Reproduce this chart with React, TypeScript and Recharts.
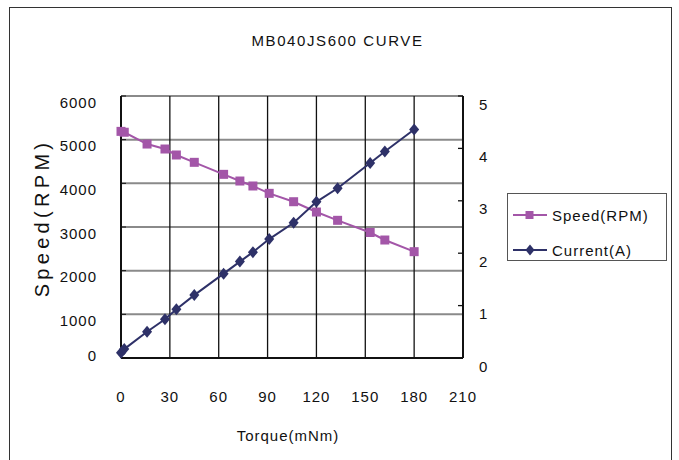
import React from 'react';
import { ComposedChart, Line, XAxis, YAxis, CartesianGrid, Legend } from 'recharts';

const torque = [0, 2, 16, 27, 34, 45, 63, 73, 81, 91, 106, 120, 133, 153, 162, 180];
const speed = [5190, 5170, 4900, 4786, 4649, 4481, 4206, 4053, 3939, 3771, 3579, 3343, 3153, 2874, 2702, 2435];
const current = [0.1, 0.17, 0.5, 0.74, 0.93, 1.2, 1.61, 1.84, 2.02, 2.27, 2.58, 2.98, 3.24, 3.72, 3.94, 4.36];

const xTicks = [0, 30, 60, 90, 120, 150, 180, 210];
const speedTicks = [0, 1000, 2000, 3000, 4000, 5000, 6000];
const currentTicks = [0, 1, 2, 3, 4, 5];

const SPEED_COLOR = '#a356a8';
const CURRENT_COLOR = '#2e3168';
const FONT = '"Liberation Sans", Arial, sans-serif';

const data = torque.map((t, i) => ({ torque: t, speed: speed[i], current: current[i] }));

const SquareDot = (props: any) => {
  const { cx, cy, index } = props;
  return <rect key={`s-${index}`} x={cx - 4.5} y={cy - 4.5} width={9} height={9} fill={SPEED_COLOR} />;
};

const DiamondDot = (props: any) => {
  const { cx, cy, index } = props;
  return (
    <polygon
      key={`d-${index}`}
      points={`${cx},${cy - 6} ${cx + 5},${cy} ${cx},${cy + 6} ${cx - 5},${cy}`}
      fill={CURRENT_COLOR}
    />
  );
};

// Excel-ish tick labels sit a little below their grid line
const LeftTick = (props: any) => {
  const { x, y, payload } = props;
  const dy = payload.value === 0 ? -3 : 6;
  return (
    <text x={x} y={y + dy} textAnchor="end" dominantBaseline="central" fontSize={15} letterSpacing={1} fill="#111" fontFamily={FONT}>
      {payload.value}
    </text>
  );
};

const RightTick = (props: any) => {
  const { x, y, payload } = props;
  return (
    <text x={x} y={y + 8} textAnchor="start" dominantBaseline="central" fontSize={15} fill="#111" fontFamily={FONT}>
      {payload.value}
    </text>
  );
};

const SpeedLabel = (props: any) => {
  const { viewBox } = props;
  const cx = viewBox.x + 42;
  const cy = viewBox.y + viewBox.height / 2 - 9;
  return (
    <text
      x={cx}
      y={cy}
      transform={`rotate(-90, ${cx}, ${cy})`}
      textAnchor="middle"
      dominantBaseline="central"
      fontSize={20}
      letterSpacing={4.3}
      fill="#111"
      fontFamily={FONT}
    >
      Speed(RPM)
    </text>
  );
};

const LegendBox = () => (
  <div
    style={{
      width: 158,
      height: 66,
      border: '1px solid #555',
      background: '#fff',
      fontFamily: FONT,
      fontSize: 15,
      letterSpacing: 1,
      color: '#111',
    }}
  >
    {[
      { name: 'Speed(RPM)', color: SPEED_COLOR, shape: 'square' },
      { name: 'Current(A)', color: CURRENT_COLOR, shape: 'diamond' },
    ].map((s, i) => (
      <div key={s.name} style={{ position: 'absolute', left: 6, top: 13 + i * 35, height: 18, display: 'flex', alignItems: 'center' }}>
        <svg width={34} height={14} style={{ marginRight: 5 }}>
          <line x1={0} y1={7} x2={34} y2={7} stroke={s.color} strokeWidth={2} />
          {s.shape === 'square' ? (
            <rect x={12.5} y={3} width={8} height={8} fill={s.color} />
          ) : (
            <polygon points="17,1.5 21.5,7 17,12.5 12.5,7" fill={s.color} />
          )}
        </svg>
        <span>{s.name}</span>
      </div>
    ))}
  </div>
);

export default function App() {
  return (
    <div style={{ position: 'absolute', left: 0, top: 0, width: 679, height: 460, background: '#fff', overflow: 'hidden' }}>
      <div
        style={{
          position: 'absolute',
          left: 9,
          top: 7,
          width: 663,
          height: 470,
          border: '1.5px solid #333',
          boxSizing: 'border-box',
        }}
      />
      <div
        style={{
          position: 'absolute',
          left: 0,
          top: 32,
          width: 679,
          textAlign: 'center',
          fontFamily: FONT,
          fontSize: 15,
          letterSpacing: 1.6,
          color: '#111',
        }}
      >
        <span style={{ position: 'relative', left: -2 }}>MB040JS600 CURVE</span>
      </div>
      <ComposedChart
        width={679}
        height={460}
        data={data}
        margin={{ top: 96, right: 0, bottom: 0, left: 0 }}
        style={{ position: 'absolute', left: 0, top: 0 }}
      >
        <CartesianGrid yAxisId="speed" vertical={false} stroke="#8a8a8a" strokeWidth={2} horizontalValues={speedTicks} />
        <CartesianGrid yAxisId="speed" horizontal={false} stroke="#111" strokeWidth={1.3} verticalValues={xTicks} />
        <XAxis
          dataKey="torque"
          type="number"
          domain={[0, 210]}
          ticks={xTicks}
          height={102}
          axisLine={{ stroke: '#111', strokeWidth: 2 }}
          tickLine={false}
          tickSize={0}
          tickMargin={33}
          tick={{ fontSize: 15, fill: '#111', fontFamily: FONT, letterSpacing: 1 }}
          interval={0}
          label={{ value: 'Torque(mNm)', position: 'insideBottom', offset: 19, dx: -4, fontSize: 15, fill: '#111', fontFamily: FONT, letterSpacing: 1 }}
        />
        <YAxis
          yAxisId="speed"
          orientation="left"
          domain={[0, 6000]}
          ticks={speedTicks}
          width={121}
          axisLine={{ stroke: '#111', strokeWidth: 2 }}
          tickLine={{ stroke: '#111' }}
          tickSize={-5}
          tickMargin={29}
          tick={<LeftTick />}
          interval={0}
          label={<SpeedLabel />}
        />
        <YAxis
          yAxisId="current"
          orientation="right"
          domain={[0, 5]}
          ticks={currentTicks}
          width={216}
          axisLine={{ stroke: '#111', strokeWidth: 2 }}
          tickLine={{ stroke: '#111', strokeWidth: 1.3 }}
          tickSize={-5}
          tickMargin={21}
          tick={<RightTick />}
          interval={0}
        />
        <Legend
          layout="vertical"
          align="center"
          verticalAlign="middle"
          wrapperStyle={{ left: 507, top: 193, width: 160, height: 68 }}
          content={<LegendBox />}
        />
        <Line
          yAxisId="speed"
          dataKey="speed"
          name="Speed(RPM)"
          stroke={SPEED_COLOR}
          strokeWidth={2}
          dot={<SquareDot />}
          activeDot={false}
          isAnimationActive={false}
        />
        <Line
          yAxisId="current"
          dataKey="current"
          name="Current(A)"
          stroke={CURRENT_COLOR}
          strokeWidth={2}
          dot={<DiamondDot />}
          activeDot={false}
          isAnimationActive={false}
        />
      </ComposedChart>
    </div>
  );
}
